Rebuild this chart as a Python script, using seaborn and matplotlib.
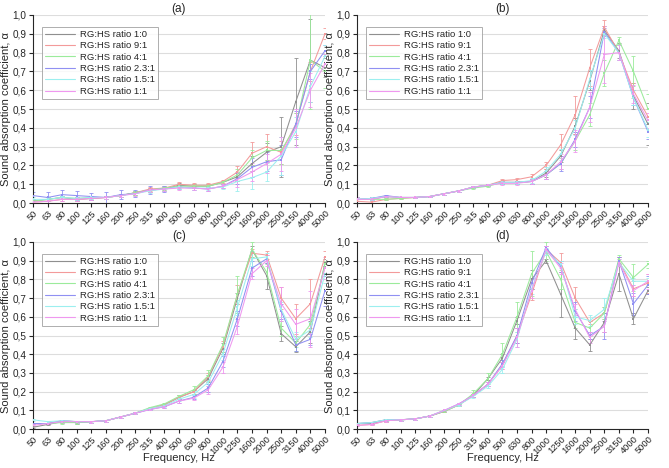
import pandas as pd
import matplotlib.pyplot as plt
import matplotlib.ticker as mticker
import seaborn as sns
import numpy as np

# === Data ===
freqs = ["50", "63", "80", "100", "125", "160", "200", "250", "315", "400", "500",
         "630", "800", "1000", "1250", "1600", "2000", "2500", "3150", "4000", "5000"]
ratios = ["RG:HS ratio 1:0", "RG:HS ratio 9:1", "RG:HS ratio 4:1",
          "RG:HS ratio 2.3:1", "RG:HS ratio 1.5:1", "RG:HS ratio 1:1"]
colors = ["#8f8f8f", "#f39a9a", "#9beb9b", "#9090f2", "#9cefef", "#ef98ef"]

# panel (a)
a_mean = {
    "1:0":   [0.010, 0.020, 0.030, 0.020, 0.025, 0.030, 0.040, 0.055, 0.070, 0.075, 0.095, 0.090, 0.090, 0.110, 0.140, 0.210, 0.270, 0.300, 0.540, 0.760, 0.720],
    "9:1":   [0.005, 0.010, 0.020, 0.020, 0.025, 0.030, 0.040, 0.055, 0.075, 0.080, 0.100, 0.095, 0.095, 0.115, 0.165, 0.265, 0.300, 0.270, 0.420, 0.700, 0.900],
    "4:1":   [0.010, 0.020, 0.030, 0.025, 0.030, 0.030, 0.040, 0.055, 0.070, 0.080, 0.090, 0.090, 0.090, 0.110, 0.150, 0.240, 0.280, 0.280, 0.410, 0.760, 0.700],
    "2.3:1": [0.040, 0.030, 0.045, 0.040, 0.035, 0.030, 0.045, 0.050, 0.070, 0.075, 0.085, 0.080, 0.075, 0.090, 0.130, 0.190, 0.220, 0.230, 0.420, 0.700, 0.810],
    "1.5:1": [0.020, 0.020, 0.030, 0.025, 0.030, 0.030, 0.040, 0.050, 0.065, 0.075, 0.085, 0.080, 0.080, 0.085, 0.115, 0.135, 0.165, 0.250, 0.380, 0.620, 0.780],
    "1:1":   [0.005, 0.010, 0.020, 0.020, 0.025, 0.030, 0.040, 0.050, 0.070, 0.075, 0.080, 0.080, 0.075, 0.090, 0.125, 0.165, 0.210, 0.260, 0.400, 0.600, 0.740],
}
a_err = {
    "1:0":   [0.010, 0.010, 0.010, 0.010, 0.010, 0.010, 0.010, 0.010, 0.010, 0.010, 0.010, 0.010, 0.010, 0.010, 0.020, 0.040, 0.050, 0.160, 0.230, 0.220, 0.050],
    "9:1":   [0.010, 0.010, 0.010, 0.010, 0.010, 0.010, 0.010, 0.010, 0.010, 0.010, 0.010, 0.010, 0.010, 0.010, 0.030, 0.060, 0.070, 0.060, 0.060, 0.050, 0.030],
    "4:1":   [0.010, 0.010, 0.010, 0.010, 0.010, 0.010, 0.010, 0.010, 0.010, 0.010, 0.010, 0.010, 0.010, 0.010, 0.030, 0.040, 0.050, 0.070, 0.070, 0.260, 0.090],
    "2.3:1": [0.020, 0.030, 0.025, 0.025, 0.020, 0.030, 0.025, 0.020, 0.020, 0.015, 0.010, 0.010, 0.010, 0.010, 0.030, 0.050, 0.050, 0.080, 0.070, 0.040, 0.030],
    "1.5:1": [0.010, 0.010, 0.010, 0.010, 0.010, 0.010, 0.010, 0.010, 0.010, 0.010, 0.010, 0.010, 0.010, 0.010, 0.050, 0.060, 0.050, 0.100, 0.080, 0.080, 0.060],
    "1:1":   [0.010, 0.010, 0.010, 0.010, 0.010, 0.010, 0.010, 0.010, 0.010, 0.010, 0.010, 0.010, 0.010, 0.010, 0.040, 0.050, 0.050, 0.090, 0.100, 0.090, 0.050],
}

# panel (b)
b_mean = {
    "1:0":   [0.020, 0.020, 0.035, 0.030, 0.030, 0.035, 0.050, 0.065, 0.085, 0.095, 0.110, 0.110, 0.115, 0.160, 0.250, 0.410, 0.650, 0.920, 0.810, 0.570, 0.420],
    "9:1":   [0.010, 0.005, 0.020, 0.025, 0.030, 0.035, 0.050, 0.065, 0.085, 0.095, 0.120, 0.125, 0.140, 0.200, 0.310, 0.470, 0.720, 0.935, 0.800, 0.600, 0.460],
    "4:1":   [0.020, 0.020, 0.020, 0.025, 0.030, 0.035, 0.050, 0.065, 0.080, 0.090, 0.110, 0.110, 0.115, 0.150, 0.210, 0.330, 0.470, 0.690, 0.865, 0.700, 0.500],
    "2.3:1": [0.020, 0.025, 0.040, 0.030, 0.030, 0.035, 0.050, 0.065, 0.085, 0.095, 0.110, 0.110, 0.115, 0.150, 0.210, 0.340, 0.510, 0.910, 0.800, 0.560, 0.380],
    "1.5:1": [0.020, 0.025, 0.035, 0.030, 0.030, 0.035, 0.050, 0.065, 0.085, 0.095, 0.110, 0.110, 0.120, 0.170, 0.260, 0.400, 0.660, 0.900, 0.800, 0.560, 0.390],
    "1:1":   [0.020, 0.020, 0.035, 0.030, 0.030, 0.035, 0.050, 0.065, 0.085, 0.095, 0.105, 0.105, 0.115, 0.150, 0.220, 0.330, 0.510, 0.790, 0.800, 0.580, 0.440],
}
b_err = {
    "1:0":   [0.010, 0.010, 0.005, 0.005, 0.005, 0.005, 0.005, 0.005, 0.005, 0.005, 0.010, 0.010, 0.015, 0.020, 0.030, 0.040, 0.050, 0.020, 0.040, 0.070, 0.110],
    "9:1":   [0.010, 0.010, 0.005, 0.005, 0.005, 0.005, 0.005, 0.005, 0.005, 0.005, 0.010, 0.010, 0.015, 0.020, 0.060, 0.100, 0.100, 0.040, 0.040, 0.040, 0.040],
    "4:1":   [0.010, 0.010, 0.005, 0.005, 0.005, 0.005, 0.005, 0.005, 0.005, 0.005, 0.010, 0.010, 0.015, 0.020, 0.030, 0.050, 0.060, 0.070, 0.020, 0.080, 0.080],
    "2.3:1": [0.010, 0.010, 0.005, 0.005, 0.005, 0.005, 0.005, 0.005, 0.005, 0.005, 0.010, 0.010, 0.015, 0.020, 0.040, 0.040, 0.060, 0.020, 0.040, 0.040, 0.040],
    "1.5:1": [0.010, 0.010, 0.005, 0.005, 0.005, 0.005, 0.005, 0.005, 0.005, 0.005, 0.010, 0.010, 0.015, 0.020, 0.030, 0.040, 0.050, 0.020, 0.040, 0.040, 0.040],
    "1:1":   [0.010, 0.010, 0.005, 0.005, 0.005, 0.005, 0.005, 0.005, 0.005, 0.005, 0.010, 0.010, 0.015, 0.020, 0.040, 0.060, 0.080, 0.150, 0.040, 0.050, 0.040],
}

# panel (c)
c_mean = {
    "1:0":   [0.010, 0.025, 0.040, 0.035, 0.040, 0.045, 0.065, 0.085, 0.110, 0.130, 0.170, 0.200, 0.270, 0.430, 0.700, 0.960, 0.820, 0.510, 0.440, 0.520, 0.890],
    "9:1":   [0.030, 0.030, 0.045, 0.040, 0.040, 0.045, 0.065, 0.085, 0.110, 0.130, 0.170, 0.200, 0.280, 0.440, 0.720, 0.940, 0.930, 0.700, 0.590, 0.670, 0.920],
    "4:1":   [0.030, 0.030, 0.035, 0.035, 0.040, 0.045, 0.065, 0.085, 0.115, 0.135, 0.175, 0.210, 0.285, 0.450, 0.720, 0.960, 0.840, 0.540, 0.460, 0.560, 0.880],
    "2.3:1": [0.030, 0.030, 0.045, 0.040, 0.040, 0.045, 0.065, 0.085, 0.105, 0.120, 0.150, 0.170, 0.220, 0.360, 0.590, 0.860, 0.910, 0.630, 0.450, 0.480, 0.740],
    "1.5:1": [0.050, 0.040, 0.045, 0.040, 0.040, 0.045, 0.065, 0.085, 0.110, 0.125, 0.160, 0.185, 0.250, 0.400, 0.650, 0.910, 0.920, 0.640, 0.480, 0.530, 0.830],
    "1:1":   [0.020, 0.030, 0.040, 0.040, 0.040, 0.045, 0.065, 0.085, 0.105, 0.120, 0.150, 0.165, 0.210, 0.330, 0.550, 0.830, 0.900, 0.670, 0.560, 0.590, 0.860],
}
c_err = {
    "1:0":   [0.005, 0.005, 0.005, 0.005, 0.005, 0.005, 0.005, 0.005, 0.005, 0.005, 0.010, 0.010, 0.020, 0.030, 0.030, 0.020, 0.070, 0.040, 0.030, 0.060, 0.020],
    "9:1":   [0.005, 0.005, 0.005, 0.005, 0.005, 0.005, 0.005, 0.005, 0.005, 0.005, 0.010, 0.010, 0.020, 0.030, 0.050, 0.020, 0.020, 0.060, 0.080, 0.130, 0.030],
    "4:1":   [0.005, 0.005, 0.005, 0.005, 0.005, 0.005, 0.005, 0.005, 0.005, 0.005, 0.010, 0.020, 0.030, 0.040, 0.100, 0.040, 0.040, 0.040, 0.040, 0.040, 0.020],
    "2.3:1": [0.005, 0.005, 0.005, 0.005, 0.005, 0.005, 0.005, 0.005, 0.005, 0.005, 0.010, 0.010, 0.020, 0.030, 0.040, 0.040, 0.020, 0.040, 0.030, 0.030, 0.080],
    "1.5:1": [0.005, 0.005, 0.005, 0.005, 0.005, 0.005, 0.005, 0.005, 0.005, 0.005, 0.010, 0.020, 0.020, 0.030, 0.040, 0.040, 0.020, 0.040, 0.040, 0.040, 0.050],
    "1:1":   [0.005, 0.005, 0.005, 0.005, 0.005, 0.005, 0.005, 0.005, 0.005, 0.005, 0.010, 0.010, 0.020, 0.030, 0.040, 0.030, 0.030, 0.090, 0.080, 0.150, 0.060],
}

# panel (d)
d_mean = {
    "1:0":   [0.030, 0.030, 0.045, 0.050, 0.055, 0.070, 0.095, 0.130, 0.180, 0.270, 0.380, 0.580, 0.800, 0.900, 0.720, 0.540, 0.450, 0.570, 0.830, 0.590, 0.740],
    "9:1":   [0.020, 0.025, 0.045, 0.050, 0.055, 0.070, 0.095, 0.130, 0.180, 0.240, 0.340, 0.500, 0.720, 0.960, 0.890, 0.700, 0.570, 0.620, 0.900, 0.750, 0.780],
    "4:1":   [0.030, 0.035, 0.050, 0.050, 0.055, 0.070, 0.095, 0.130, 0.190, 0.270, 0.400, 0.600, 0.830, 0.950, 0.800, 0.570, 0.540, 0.620, 0.910, 0.810, 0.880],
    "2.3:1": [0.030, 0.035, 0.050, 0.050, 0.055, 0.070, 0.100, 0.135, 0.180, 0.240, 0.350, 0.500, 0.780, 0.970, 0.870, 0.630, 0.500, 0.550, 0.900, 0.670, 0.770],
    "1.5:1": [0.030, 0.035, 0.050, 0.050, 0.055, 0.070, 0.100, 0.130, 0.175, 0.230, 0.320, 0.480, 0.750, 0.950, 0.880, 0.600, 0.580, 0.640, 0.890, 0.790, 0.790],
    "1:1":   [0.020, 0.025, 0.045, 0.050, 0.055, 0.070, 0.100, 0.135, 0.180, 0.240, 0.340, 0.490, 0.740, 0.960, 0.860, 0.640, 0.490, 0.550, 0.890, 0.740, 0.790],
}
d_err = {
    "1:0":   [0.005, 0.005, 0.005, 0.005, 0.005, 0.005, 0.005, 0.005, 0.010, 0.010, 0.020, 0.020, 0.050, 0.010, 0.120, 0.060, 0.030, 0.050, 0.090, 0.030, 0.020],
    "9:1":   [0.005, 0.005, 0.005, 0.005, 0.005, 0.005, 0.005, 0.005, 0.010, 0.010, 0.020, 0.040, 0.030, 0.020, 0.050, 0.060, 0.010, 0.030, 0.020, 0.040, 0.050],
    "4:1":   [0.005, 0.005, 0.005, 0.005, 0.005, 0.005, 0.005, 0.005, 0.020, 0.030, 0.060, 0.080, 0.120, 0.050, 0.050, 0.030, 0.040, 0.030, 0.020, 0.070, 0.020],
    "2.3:1": [0.005, 0.005, 0.005, 0.005, 0.005, 0.005, 0.005, 0.005, 0.010, 0.010, 0.020, 0.040, 0.030, 0.010, 0.030, 0.050, 0.020, 0.070, 0.020, 0.060, 0.050],
    "1.5:1": [0.005, 0.005, 0.005, 0.005, 0.005, 0.005, 0.005, 0.005, 0.010, 0.010, 0.020, 0.040, 0.030, 0.020, 0.020, 0.040, 0.030, 0.060, 0.020, 0.020, 0.020],
    "1:1":   [0.005, 0.005, 0.005, 0.005, 0.005, 0.005, 0.005, 0.005, 0.010, 0.010, 0.020, 0.050, 0.040, 0.020, 0.030, 0.030, 0.030, 0.030, 0.020, 0.030, 0.040],
}

panels = [("(a)", a_mean, a_err), ("(b)", b_mean, b_err),
          ("(c)", c_mean, c_err), ("(d)", d_mean, d_err)]

# === Style ===
sns.set_style("ticks")
plt.rcParams["font.family"] = ["Liberation Sans", "DejaVu Sans"]

fig = plt.figure(figsize=(6.69, 4.68), dpi=100)
positions = [
    [0.0493, 0.566, 0.4365, 0.402],
    [0.5336, 0.566, 0.4350, 0.402],
    [0.0493, 0.083, 0.4365, 0.400],
    [0.5336, 0.083, 0.4350, 0.400],
]

x = np.arange(len(freqs))
keys = ["1:0", "9:1", "4:1", "2.3:1", "1.5:1", "1:1"]

for i, (title, means, errs) in enumerate(panels):
    ax = fig.add_axes(positions[i])
    ax.yaxis.grid(True, color="#dddddd", linewidth=0.8)
    ax.set_axisbelow(True)

    rows = []
    for k, lab in zip(keys, ratios):
        for xi, v in zip(x, means[k]):
            rows.append({"x": xi, "alpha": v, "series": lab})
    df = pd.DataFrame(rows)

    sns.lineplot(data=df, x="x", y="alpha", hue="series", hue_order=ratios,
                 palette=colors, linewidth=0.75, marker="s", markersize=1.8,
                 markeredgewidth=0, ax=ax, zorder=3)

    for k, c in zip(keys, colors):
        ax.errorbar(x, means[k], yerr=errs[k], fmt="none", ecolor=c,
                    elinewidth=0.6, capsize=1.5, capthick=0.6, zorder=2)

    ax.set_xlim(0, 20)
    ax.set_ylim(0, 1.0)
    ax.set_xticks(x)
    ax.set_xticklabels(freqs, rotation=45, ha="right", rotation_mode="anchor", fontsize=6.7)
    ax.set_yticks(np.arange(0, 1.01, 0.1))
    ax.yaxis.set_major_formatter(mticker.FuncFormatter(lambda v, p: f"{v:.1f}".replace(".", ",")))
    ax.tick_params(axis="y", labelsize=7.2, length=3, width=0.8, pad=1.5)
    ax.tick_params(axis="x", length=3, width=0.8, pad=1)
    sns.despine(ax=ax)
    ax.spines["left"].set_linewidth(0.8)
    ax.spines["bottom"].set_linewidth(0.8)

    ax.set_title(title, fontsize=8.5, pad=1.5)
    ax.set_ylabel("Sound absorption coefficient, α", fontsize=8, labelpad=1)
    if i >= 2:
        ax.set_xlabel("Frequency, Hz", fontsize=8)
        ax.xaxis.set_label_coords(0.5, -0.128)
    else:
        ax.set_xlabel("")

    leg = ax.legend(loc="upper left", bbox_to_anchor=(0.03, 0.935), fontsize=6.8,
                    frameon=True, fancybox=False, edgecolor="#9a9a9a",
                    handlelength=3.2, borderpad=0.3, labelspacing=0.25,
                    handletextpad=0.6, borderaxespad=0)
    leg.get_frame().set_linewidth(0.7)
    for h in leg.get_lines():
        h.set_marker("")
        h.set_linewidth(0.8)

# === Save ===
plt.savefig("out.png", dpi=100)
plt.close()
